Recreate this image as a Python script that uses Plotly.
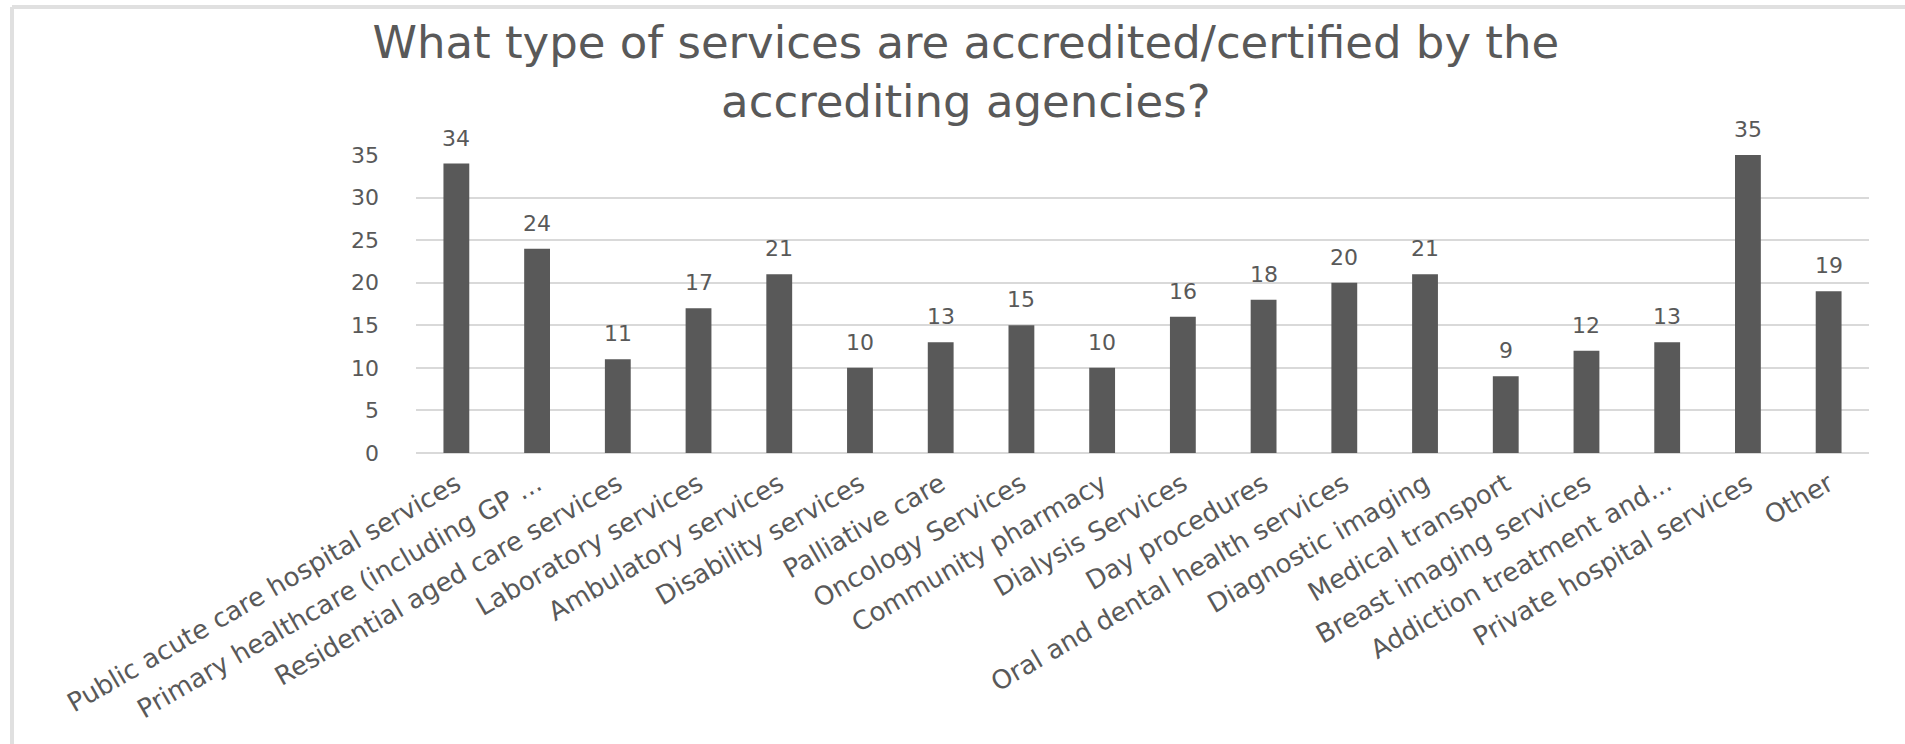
import plotly.graph_objects as go

categories = [
    "Public acute care hospital services",
    "Primary healthcare (including GP ...",
    "Residential aged care services",
    "Laboratory services",
    "Ambulatory services",
    "Disability services",
    "Palliative care",
    "Oncology Services",
    "Community pharmacy",
    "Dialysis Services",
    "Day procedures",
    "Oral and dental health services",
    "Diagnostic imaging",
    "Medical transport",
    "Breast imaging services",
    "Addiction treatment and...",
    "Private hospital services",
    "Other",
]
values = [34, 24, 11, 17, 21, 10, 13, 15, 10, 16, 18, 20, 21, 9, 12, 13, 35, 19]
y_ticks = [0, 5, 10, 15, 20, 25, 30, 35]
title_text = "What type of services are accredited/certified by the<br>accrediting agencies?"

TXT = "#595959"
FONT = "DejaVu Sans"

fig = go.Figure()
fig.add_trace(go.Bar(
    x=categories, y=values,
    marker=dict(color="#595959", line=dict(width=0)),
    cliponaxis=False,
    hoverinfo="skip",
))

for c, v in zip(categories, values):
    fig.add_annotation(x=c, y=v, text=str(v), showarrow=False,
                       yanchor="bottom", yshift=11,
                       font=dict(family=FONT, size=22, color=TXT))

fig.update_layout(
    width=1905, height=744,
    margin=dict(l=416, r=36, t=155, b=291),
    paper_bgcolor="white", plot_bgcolor="white",
    bargap=0.68,
    showlegend=False,
    title=dict(text=title_text, x=0.507, xref="container", xanchor="center",
               y=1 - 58 / 744, yref="container", yanchor="middle",
               font=dict(family=FONT, size=45, color=TXT)),
    xaxis=dict(tickangle=-30, tickfont=dict(family=FONT, size=26, color=TXT),
               showgrid=False, showline=False, ticks="", ticklabelstandoff=10),
    yaxis=dict(range=[0, 35], tickvals=y_ticks,
               tickfont=dict(family=FONT, size=22, color=TXT),
               showgrid=True, gridcolor="#d9d9d9", gridwidth=2,
               zeroline=True, zerolinecolor="#d9d9d9", zerolinewidth=2,
               showline=False, ticks="", ticklabelstandoff=36),
    shapes=[
        dict(type="line", xref="paper", yref="paper",
             x0=(12 - 416) / 1453, x1=(1905 - 416) / 1453,
             y0=(744 - 291 - 7) / 298, y1=(744 - 291 - 7) / 298,
             line=dict(color="#e0e0e0", width=4), layer="below"),
        dict(type="line", xref="paper", yref="paper",
             x0=(12 - 416) / 1453, x1=(12 - 416) / 1453,
             y0=(744 - 291 - 7) / 298, y1=-291 / 298,
             line=dict(color="#e0e0e0", width=4), layer="below"),
    ],
)

fig.write_html("out.html")
